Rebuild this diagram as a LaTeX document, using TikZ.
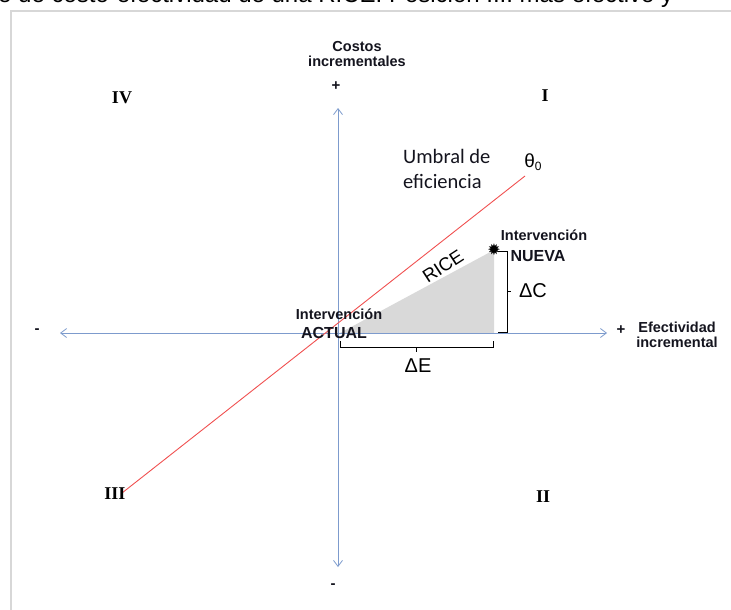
\documentclass[tikz,border=0pt]{standalone}
\usepackage{fontspec}
\setmainfont{Liberation Sans}
\newfontfamily\serifb{Liberation Serif}
\newfontfamily\calib{Carlito}
\newfontfamily\djv{DejaVu Sans}
\usetikzlibrary{arrows.meta}
\definecolor{axisblue}{RGB}{125,155,205}
\definecolor{redline}{RGB}{240,80,80}
\definecolor{framegray}{RGB}{215,215,215}
\definecolor{trigray}{RGB}{217,217,217}
\definecolor{txt}{RGB}{20,20,30}
\tikzset{
  axis/.style={draw=axisblue, line width=0.8pt, {Straight Barb[length=6pt,width=9pt]}-{Straight Barb[length=6pt,width=9pt]}},
  lbl/.style={font=\bfseries\fontsize{14.5}{16}\selectfont, text=txt, inner sep=0pt, align=center},
  sign/.style={font=\bfseries\fontsize{15}{15}\selectfont, text=txt, inner sep=0pt},
  roman/.style={font=\serifb\bfseries\fontsize{18}{20}\selectfont, inner sep=0pt},
  brk/.style={draw=black, line width=0.7pt},
  delta/.style={font=\fontsize{20}{22}\selectfont, inner sep=0pt}
}
\begin{document}
\begin{tikzpicture}[x=1pt,y=-1pt]
\useasboundingbox (0,0) rectangle (731,610);
\clip (0,0) rectangle (731,610);
% cut title line
\node[anchor=base west, inner sep=0pt, font=\fontsize{24}{26}\selectfont] (title) at (-2,3) {e de costo-efectividad de una RICE. Posición III: más efectivo y};
% frame
\draw[framegray, line width=1.5pt] (11,615) -- (11,11) -- (735,11);
% triangle
\coordinate (O) at (340,333);
\coordinate (N) at (494,250);
\coordinate (B) at (494,333);
\fill[trigray] (O) -- (N) -- (B) -- cycle;
% axes
\coordinate (xl) at (60,333);
\coordinate (xr) at (607,333);
\coordinate (yt) at (338,108);
\coordinate (yb) at (338,567);
\draw[axis] (xl) -- (xr);
\draw[axis] (yb) -- (yt);
% threshold line
\coordinate (r1) at (122,493);
\coordinate (r2) at (525,176);
\draw[redline, line width=0.9pt] (r1) -- (r2);
% signs
\node[sign] (py) at (336,86) {+};
\node[sign] (my) at (333,586) {-};
\node[sign] (mx) at (37,331) {-};
\node[sign] (px) at (621,330) {+};
% axis labels
\node[lbl] (cy) at (357,54) {Costos\\[-1pt]incrementales};
\node[lbl] (ex) at (677,335) {Efectividad\\[-1pt]incremental};
% quadrants
\node[roman] (q4) at (122,98) {IV};
\node[roman] (q1) at (545,96) {I};
\node[roman] (q3) at (115,494) {III};
\node[roman] (q2) at (543,497) {II};
% umbral
\node[font=\calib\fontsize{20.5}{25}\selectfont, align=left, anchor=west, inner sep=0pt, text=txt] (umb) at (403,169) {Umbral de\\eficiencia};
\node[font=\fontsize{19}{20}\selectfont, inner sep=0pt] (theta) at (533,162) {θ\raisebox{-3pt}{\fontsize{12}{12}\selectfont 0}};
% nodes text
\node[lbl] (int1) at (339,314) {Intervención};
\node[lbl, font=\bfseries\fontsize{16}{18}\selectfont] (act) at (334,333) {ACTUAL};
\node[lbl] (int2) at (544,235) {Intervención};
\node[lbl, font=\bfseries\fontsize{16}{18}\selectfont] (nue) at (538,256) {NUEVA};
\node[inner sep=0pt, font=\djv\fontsize{16}{16}\selectfont] (star) at (N) {✹};
% RICE
\node[font=\fontsize{18.5}{20}\selectfont, rotate=33, inner sep=0pt] (rice) at (443,266) {RICE};
% bracket dC
\draw[brk] (498,251) -- (507,251) -- (507,332) -- (498,332);
\draw[brk] (507,291) -- (511,291);
\node[delta] (dc) at (533,291) {ΔC};
% bracket dE
\draw[brk] (340,341) -- (340,347) -- (493,347) -- (493,341);
\draw[brk] (416,347) -- (416,352);
\node[delta] (de) at (418,366) {ΔE};
\end{tikzpicture}
\end{document}
